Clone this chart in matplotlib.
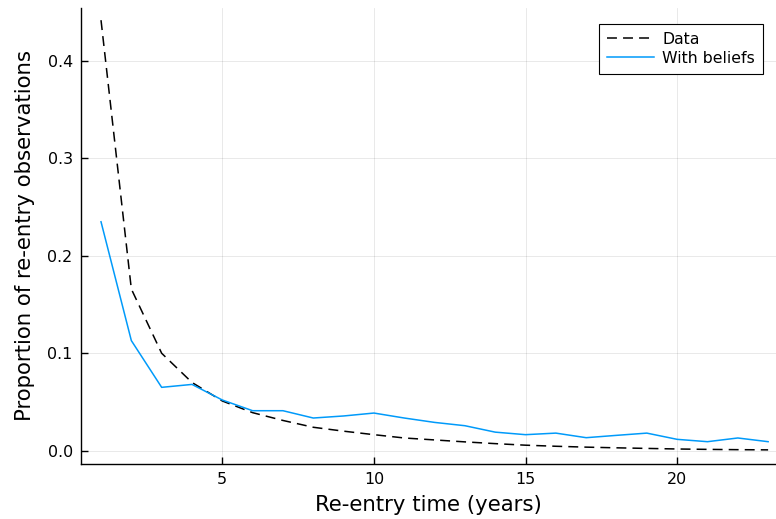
import matplotlib.pyplot as plt
import numpy as np

# re-entry time in years
years = np.arange(1, 24)

data_prop = [0.442, 0.166, 0.100, 0.070, 0.051, 0.039, 0.031, 0.024, 0.020,
             0.0164, 0.013, 0.011, 0.009, 0.0072, 0.0056, 0.0045, 0.0036,
             0.0029, 0.0023, 0.0017, 0.0013, 0.0010, 0.0008]

# model with beliefs
beliefs_prop = [0.235, 0.113, 0.065, 0.068, 0.052, 0.041, 0.041, 0.0335,
                0.0356, 0.0386, 0.0335, 0.029, 0.0256, 0.019, 0.0164, 0.018,
                0.0133, 0.0157, 0.018, 0.0116, 0.0092, 0.013, 0.0092]

fig = plt.figure(figsize=(7.76, 5.19), dpi=100)
ax = fig.add_axes([81/776, 1-463.5/519, 1-81/776, (463.5-8)/519])

ax.plot(years, data_prop, color='black', linestyle=(0, (6.5, 4)), lw=1.1, label='Data')
ax.plot(years, beliefs_prop, color='#009AFA', lw=1.1, label='With beliefs')

ax.set_xlim(0.34, 23.26)
ax.set_ylim(-0.0132, 0.4545)
ax.set_xticks([5, 10, 15, 20])
ax.set_yticks([0.0, 0.1, 0.2, 0.3, 0.4])
ax.set_yticklabels(['0.0', '0.1', '0.2', '0.3', '0.4'])

ax.grid(True, color='black', alpha=0.1, lw=0.6)
for side in ['top', 'right']:
    ax.spines[side].set_visible(False)
for side in ['left', 'bottom']:
    ax.spines[side].set_linewidth(1.0)
ax.tick_params(direction='in', length=5, width=1.0, labelsize=11.4, pad=6)

ax.set_xlabel('Re-entry time (years)', fontsize=15.3, labelpad=6)
ax.set_ylabel('Proportion of re-entry observations', fontsize=15.3, labelpad=9)

leg = ax.legend(loc='upper right', bbox_to_anchor=(0.981, 0.965), borderaxespad=0,
                fontsize=11.3, fancybox=False, framealpha=1, edgecolor='black',
                handlelength=3.0, handletextpad=0.5, borderpad=0.5,
                labelspacing=0.25)
leg.get_frame().set_linewidth(0.8)

fig.savefig('out.png')
